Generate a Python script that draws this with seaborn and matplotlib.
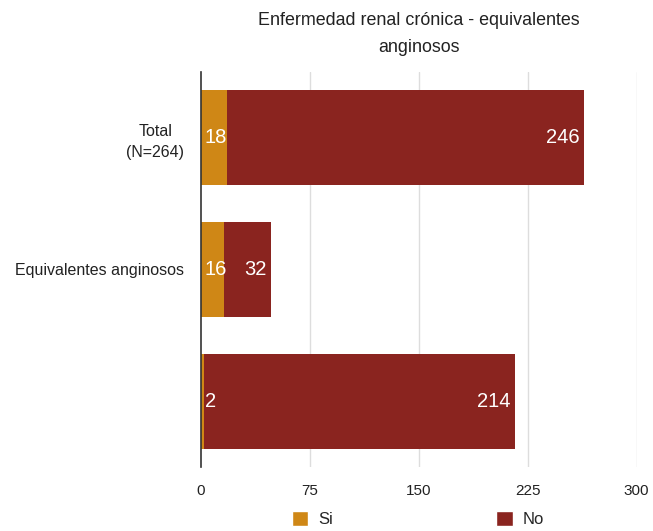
import matplotlib
matplotlib.use("Agg")
import matplotlib.pyplot as plt
import seaborn as sns
import pandas as pd
from matplotlib.patches import Patch

categories = ["Total\n(N=264)", "Equivalentes anginosos", ""]
si_values = [18, 16, 2]
no_values = [246, 32, 214]
x_ticks = [0, 75, 150, 225, 300]

color_si = "#CF8716"
color_no = "#8A241F"

sns.set_theme(style="white")
plt.rcParams["font.family"] = ["Liberation Sans", "DejaVu Sans"]

df = pd.DataFrame({
    "categoria": categories,
    "Si": si_values,
    "No": no_values,
})
df["total"] = df["Si"] + df["No"]

fig = plt.figure(figsize=(6.53, 5.31), dpi=100)
ax = fig.add_axes([0.308, 0.12, 0.667, 0.745])

# stacked bars: full length in dark red, "Si" portion painted over it
sns.barplot(data=df, y="categoria", x="total", orient="h", color=color_no,
            width=0.72, saturation=1, linewidth=0, ax=ax)
sns.barplot(data=df, y="categoria", x="Si", orient="h", color=color_si,
            width=0.72, saturation=1, linewidth=0, ax=ax)

ax.set_xlim(0, 300)
ax.set_ylim(2.5, -0.5)
ax.set_xticks(x_ticks)
ax.set_xticklabels([str(t) for t in x_ticks], fontsize=11, color="#222222")
ax.set_yticklabels(categories, fontsize=11.5, color="#222222")
for lbl in ax.get_yticklabels():
    lbl.set_multialignment("center")
    lbl.set_linespacing(1.5)
ax.tick_params(axis="y", length=0, pad=12)
ax.tick_params(axis="x", length=0, pad=12)
ax.set_xlabel("")
ax.set_ylabel("")

for t in x_ticks[1:]:
    ax.axvline(t, color="#DDDDDD", lw=1, zorder=0)
for s in ["top", "right", "bottom"]:
    ax.spines[s].set_visible(False)
ax.spines["left"].set_color("#333333")
ax.spines["left"].set_linewidth(1.2)

# value labels: "Si" at the start of each bar, "No" at its end
for i, (si, no) in enumerate(zip(si_values, no_values)):
    ax.text(2.5, i, str(si), ha="left", va="center", color="white",
            fontsize=14.5, zorder=5)
    ax.text(si + no - 3, i, str(no), ha="right", va="center", color="white",
            fontsize=14.5, zorder=5)

ax.set_title("Enfermedad renal crónica - equivalentes\nanginosos",
             fontsize=12.9, color="#222222", pad=14, linespacing=1.75)

handles = [Patch(facecolor=color_si, label="Si"), Patch(facecolor=color_no, label="No")]
fig.legend(handles=handles, loc="center", bbox_to_anchor=(0.64, 0.022), ncol=2,
           frameon=False, fontsize=12, handlelength=1.0, handleheight=1.0,
           columnspacing=9.8, handletextpad=0.6)

fig.savefig("out.png", dpi=100)
